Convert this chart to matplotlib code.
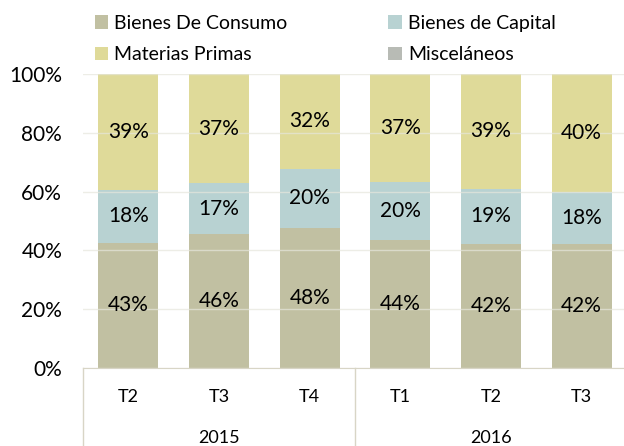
import matplotlib
matplotlib.use("Agg")
import matplotlib.pyplot as plt
import numpy as np

plt.rcParams['font.family'] = ['Lato', 'DejaVu Sans']

# datos (porcentajes por trimestre)
trimestres = ['T2', 'T3', 'T4', 'T1', 'T2', 'T3']
anios = ['2015', '2016']
consumo = [42.6, 45.6, 47.7, 43.6, 42.2, 42.1]
capital = [18.0, 17.3, 20.1, 19.6, 18.8, 17.8]
materias = [39.4, 37.1, 32.2, 36.8, 39.0, 40.1]
miscelaneos = [0.0, 0.0, 0.0, 0.0, 0.0, 0.0]

series = [
    ('Bienes De Consumo', consumo, '#C1C0A2', True),
    ('Bienes de Capital', capital, '#B8D2D2', True),
    ('Materias Primas', materias, '#DFDA99', True),
    ('Misceláneos', miscelaneos, '#B8BBB5', False),
]

fig = plt.figure(figsize=(6.24, 4.46), dpi=100)
W, H = 624, 446
ax = fig.add_axes([83 / W, 1 - 368 / H, (627 - 83) / W, (368 - 74) / H])

x = np.arange(len(trimestres))
abajo = np.zeros(len(trimestres))
handles = {}
for nombre, vals, color, etiqueta in series:
    bars = ax.bar(x, vals, width=0.66, bottom=abajo, color=color, label=nombre, zorder=2)
    handles[nombre] = bars
    if etiqueta:
        ax.bar_label(bars, labels=[f"{v:.0f}%" for v in vals], label_type='center',
                     fontsize=15, color='black')
    abajo += np.array(vals)

ax.set_xlim(-0.5, 5.5)
ax.set_ylim(0, 100)
ax.set_yticks(np.arange(0, 101, 20))
ax.set_yticklabels([f"{t}%" for t in range(0, 101, 20)], fontsize=15)
ax.tick_params(axis='y', length=0, pad=15)
ax.set_xticks([])
ax.grid(axis='y', color='#E6E6DC', linewidth=1, alpha=0.7, zorder=3)
ax.set_axisbelow(False)
for s in ['top', 'right', 'left']:
    ax.spines[s].set_visible(False)
ax.spines['bottom'].set_color('#D8D5C6')
ax.spines['bottom'].set_zorder(4)

# eje de categorias en dos niveles
trans = ax.get_xaxis_transform()
for xs in [-0.5, 2.5, 5.5]:
    ax.plot([xs, xs], [0, -0.27], color='#D8D5C6', lw=1, transform=trans, clip_on=False)
for i, t in enumerate(trimestres):
    ax.text(i, -29 / 294, t, transform=trans, ha='center', va='center', fontsize=13)
for j, a in enumerate(anios):
    ax.text(1 + 3 * j, -70 / 294, a, transform=trans, ha='center', va='center', fontsize=13)

orden = ['Bienes De Consumo', 'Materias Primas', 'Bienes de Capital', 'Misceláneos']
fig.legend([handles[n] for n in orden], orden, ncol=2, loc='upper left',
           bbox_to_anchor=(81 / W, 1 - 1 / H), frameon=False, fontsize=14,
           handlelength=0.7, handleheight=0.7, handletextpad=0.3,
           columnspacing=5.2, labelspacing=0.75, borderpad=0.2)

fig.savefig('out.png', dpi=100)
